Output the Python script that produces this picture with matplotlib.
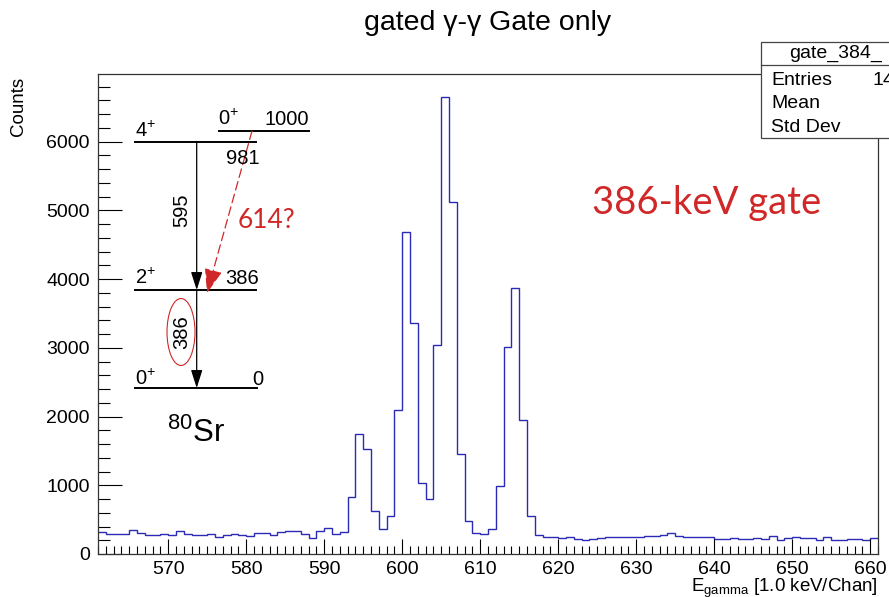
import numpy as np
import matplotlib.pyplot as plt
from matplotlib.patches import Ellipse, Rectangle

plt.rcParams['font.family'] = ['Liberation Sans', 'DejaVu Sans']
plt.rcParams['mathtext.fontset'] = 'custom'
plt.rcParams['mathtext.rm'] = 'Liberation Sans'
plt.rcParams['mathtext.it'] = 'Liberation Sans:italic'

# histogram: 1 keV bins from 561 to 661
bin_lo = 561
bin_hi = 661
counts = [325, 286, 286, 286, 344, 305, 276, 276, 286, 276,
          330, 286, 276, 276, 286, 252, 281, 296, 281, 266,
          301, 301, 276, 320, 330, 330, 291, 238, 330, 374,
          286, 315, 830, 1742, 1524, 626, 364, 558, 2092, 4683,
          3367, 1029, 796, 3042, 6652, 5128, 1456, 476, 306, 287,
          364, 990, 3013, 3867, 1946, 553, 272, 252, 252, 233,
          252, 213, 209, 223, 237, 247, 243, 243, 252, 252,
          257, 266, 276, 300, 262, 252, 247, 243, 243, 218,
          218, 228, 223, 218, 228, 218, 257, 204, 233, 243,
          237, 228, 209, 243, 209, 209, 213, 223, 209, 228]

x_ticks = [570, 580, 590, 600, 610, 620, 630, 640, 650, 660]
y_ticks = [0, 1000, 2000, 3000, 4000, 5000, 6000]
y_max = 6985

hist_title = "gated \u03b3-\u03b3 Gate only"
stats_name = "gate_384_"
stats_rows = ["Entries", "Mean", "Std Dev"]
stats_entries = "14"

# level scheme of 80Sr (energy labels, spins)
levels = ["0", "386", "981", "1000"]
gamma_labels = ["595", "386"]
red = '#d02828'
hist_color = '#2a2ab4'

W, H = 889, 597
fig = plt.figure(figsize=(W / 100, H / 100), dpi=100)

# frame in pixel units: x 98..878, y 74..554
ax = fig.add_axes([98 / W, 1 - 554 / H, 780 / W, 480 / H])
edges = np.arange(bin_lo, bin_hi + 1)
ax.stairs(counts, edges, color=hist_color, linewidth=1.0, baseline=None)
ax.set_xlim(bin_lo, bin_hi)
ax.set_ylim(0, y_max)
ax.set_xticks(x_ticks)
ax.set_xticks(np.arange(bin_lo, bin_hi + 1), minor=True)
ax.set_yticks(y_ticks)
ax.set_yticks(np.arange(0, y_max, 200), minor=True)
ax.tick_params(axis='x', which='major', direction='in', length=10.5, width=0.8, labelsize=14, pad=5)
ax.tick_params(axis='x', which='minor', direction='in', length=5.5, width=0.8)
ax.tick_params(axis='y', which='major', direction='in', length=17, width=0.8, labelsize=14, pad=6)
ax.tick_params(axis='y', which='minor', direction='in', length=8.5, width=0.8)
for s in ax.spines.values():
    s.set_color('#333333')
    s.set_linewidth(0.9)

# overlay for annotations, pixel coordinates (y down)
ov = fig.add_axes([0, 0, 1, 1], facecolor='none')
ov.set_xlim(0, W)
ov.set_ylim(H, 0)
ov.axis('off')

ov.text(488, 30, hist_title, ha='center', va='baseline', fontsize=20.5)
ov.text(18, 136, "Counts", rotation=90, ha='center', va='bottom', fontsize=13.5)
ov.text(878, 592, r"E$_{\mathrm{gamma}}$ [1.0 keV/Chan]", ha='right', va='baseline', fontsize=13.5)

# stats box (cut by the canvas edge)
ov.add_patch(Rectangle((760.5, 42), 140, 96, facecolor='white', edgecolor='#444444', lw=0.9, zorder=5))
ov.plot([760.5, 889], [65, 65], color='#444444', lw=0.9, zorder=6)
ov.text(789, 58, stats_name, ha='left', va='baseline', fontsize=14, zorder=7)
for i, row in enumerate(stats_rows):
    ov.text(771, 85 + i * 23.3, row, ha='left', va='baseline', fontsize=14, zorder=7)
ov.text(873, 85, stats_entries, ha='left', va='baseline', fontsize=14, zorder=7)

# level lines
lw_lev = 1.4
ov.plot([135, 256], [141.5, 141.5], color='black', lw=lw_lev)
ov.plot([219, 309], [130.5, 130.5], color='black', lw=lw_lev)
ov.plot([135, 256], [290, 290], color='black', lw=lw_lev)
ov.plot([135, 257], [388, 388], color='black', lw=lw_lev)

# transitions
for y0, y1 in [(141.5, 290), (290, 388)]:
    ov.annotate('', xy=(196.7, y1), xytext=(196.7, y0),
                arrowprops=dict(arrowstyle='-|>,head_length=1.1,head_width=0.35', color='black', lw=0.9,
                                shrinkA=0, shrinkB=0))
ov.annotate('', xy=(207, 293), xytext=(252, 131),
            arrowprops=dict(arrowstyle='-|>,head_length=1.5,head_width=0.55', color=red, lw=0.9,
                            linestyle=(0, (7, 3.5)), shrinkA=0, shrinkB=0))

lab = 14.5
ov.text(135, 137, r"4$^{+}$", fontsize=lab, va='baseline')
ov.text(218, 125, r"0$^{+}$", fontsize=lab, va='baseline')
ov.text(265, 125, levels[3], fontsize=lab, va='baseline')
ov.text(242.5, 164, levels[2], fontsize=lab, va='baseline', ha='center')
ov.text(135, 284, r"2$^{+}$", fontsize=lab, va='baseline')
ov.text(225, 284, levels[1], fontsize=lab, va='baseline')
ov.text(135, 385, r"0$^{+}$", fontsize=lab, va='baseline')
ov.text(252, 385, levels[0], fontsize=lab, va='baseline')
ov.text(182, 210, gamma_labels[0], fontsize=lab, rotation=90, ha='center', va='center')
ov.text(182, 332, gamma_labels[1], fontsize=lab, rotation=90, ha='center', va='center')
ov.add_patch(Ellipse((181, 332), 28, 67, fill=False, edgecolor=red, lw=0.8))
ov.text(167, 442, r"$^{80}$Sr", fontsize=22.5, va='baseline')

ov.text(238, 228, "614?", color=red, fontsize=19, family=['Lato', 'DejaVu Sans'], va='baseline')
ov.text(707, 214, "386-keV gate", color=red, fontsize=27.5, family=['Lato', 'DejaVu Sans'],
        ha='center', va='baseline')

fig.savefig('out.png', dpi=100)
